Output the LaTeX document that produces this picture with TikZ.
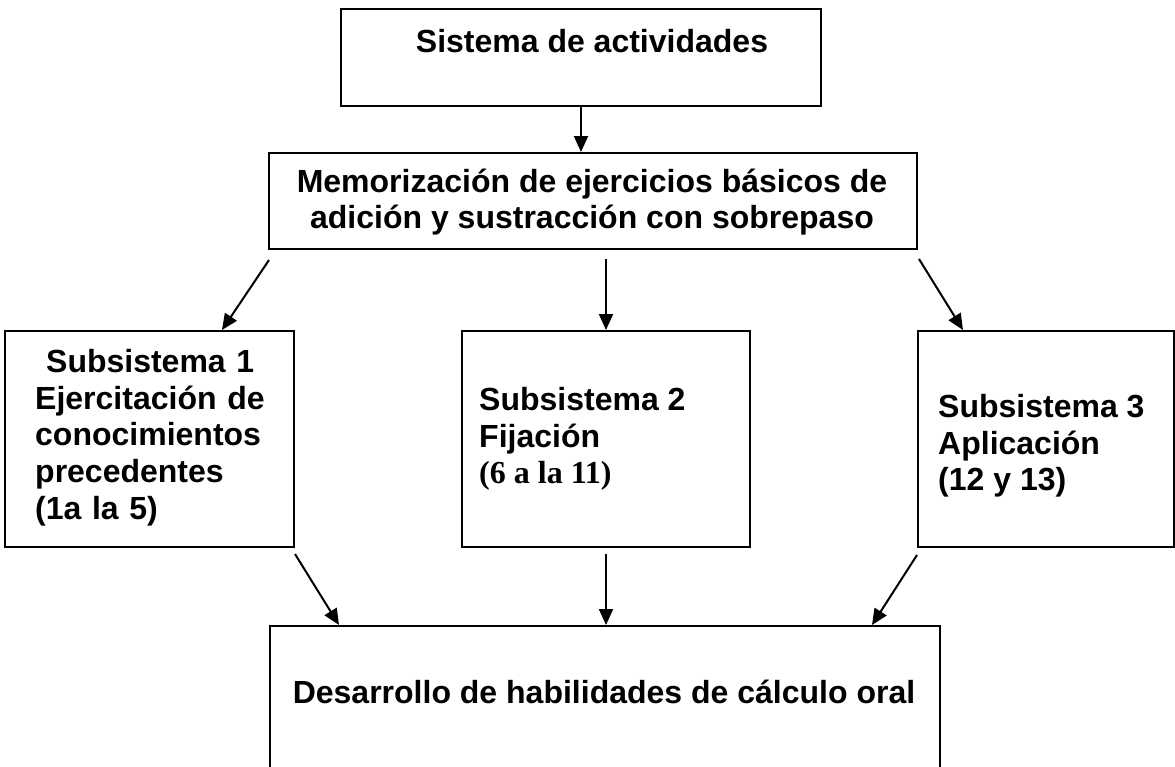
\documentclass[tikz,border=0pt]{standalone}
\usepackage{fontspec}
\setmainfont{Liberation Sans}
\newfontfamily\romanfont{Liberation Serif}
\usetikzlibrary{calc, arrows.meta}

\begin{document}
\begin{tikzpicture}[x=1pt, y=-1pt,
    box/.style={draw, line width=2pt, anchor=north west, inner sep=0pt},
    txt/.style={inner sep=0pt, font=\fontsize{32}{36.8}\selectfont\bfseries},
    flow/.style={-{Triangle[length=16pt,width=14pt]}, line width=2pt}]
   \clip (0,0) rectangle (1175,766);

   % cajas
   \node[box, minimum width=480pt, minimum height=97pt] (sis) at (340,8) {};
   \node[box, minimum width=648pt, minimum height=96pt] (memo) at (268,152) {};
   \node[box, minimum width=289pt, minimum height=216pt] (sub1) at (4,330) {};
   \node[box, minimum width=288pt, minimum height=216pt] (sub2) at (461,330) {};
   \node[box, minimum width=256pt, minimum height=216pt] (sub3) at (917,330) {};
   \node[box, minimum width=670pt, minimum height=160pt] (des) at (269,625) {};

   % textos
   \node[txt, anchor=base] (sis-t) at (592,52) {Sistema de actividades};
   \node[txt, align=center] (memo-t) at (592,202)
      {Memorización de ejercicios básicos de\\adición y sustracción con sobrepaso};
   \node[txt, align=left, text width=230pt, anchor=north west] (sub1-t) at (35,349)
      {\makebox[230pt]{Subsistema 1}\\Ejercitación de\\conocimientos\\precedentes\\(1a la 5)};
   \node[txt, align=left, anchor=north west] (sub2-t) at (479,387)
      {Subsistema 2\\Fijación\\{\romanfont(6 a la 11)}};
   \node[txt, align=left, anchor=north west] (sub3-t) at (938,394)
      {Subsistema 3\\Aplicación\\(12 y 13)};
   \node[txt, anchor=base] (des-t) at (604,703) {Desarrollo de habilidades de cálculo oral};

   % flechas
   \draw[flow] (sis.south) -- (sis.south |- memo.north);
   \draw[flow] ($(memo.south west)+(1,10)$) -- ($(sub1.north west)+(218,0)$);
   \draw[flow] ($(sub2.north |- memo.south)+(0,9)$) -- (sub2.north);
   \draw[flow] ($(memo.south east)+(1,9)$) -- ($(sub3.north west)+(46,0)$);
   \draw[flow] ($(sub1.south east)+(0,6)$) -- ($(des.north west)+(70,0)$);
   \draw[flow] ($(sub2.south)+(0,6)$) -- (sub2.south |- des.north);
   \draw[flow] ($(sub3.south west)+(0,7)$) -- ($(des.north east)+(-69,0)$);
\end{tikzpicture}
\end{document}
